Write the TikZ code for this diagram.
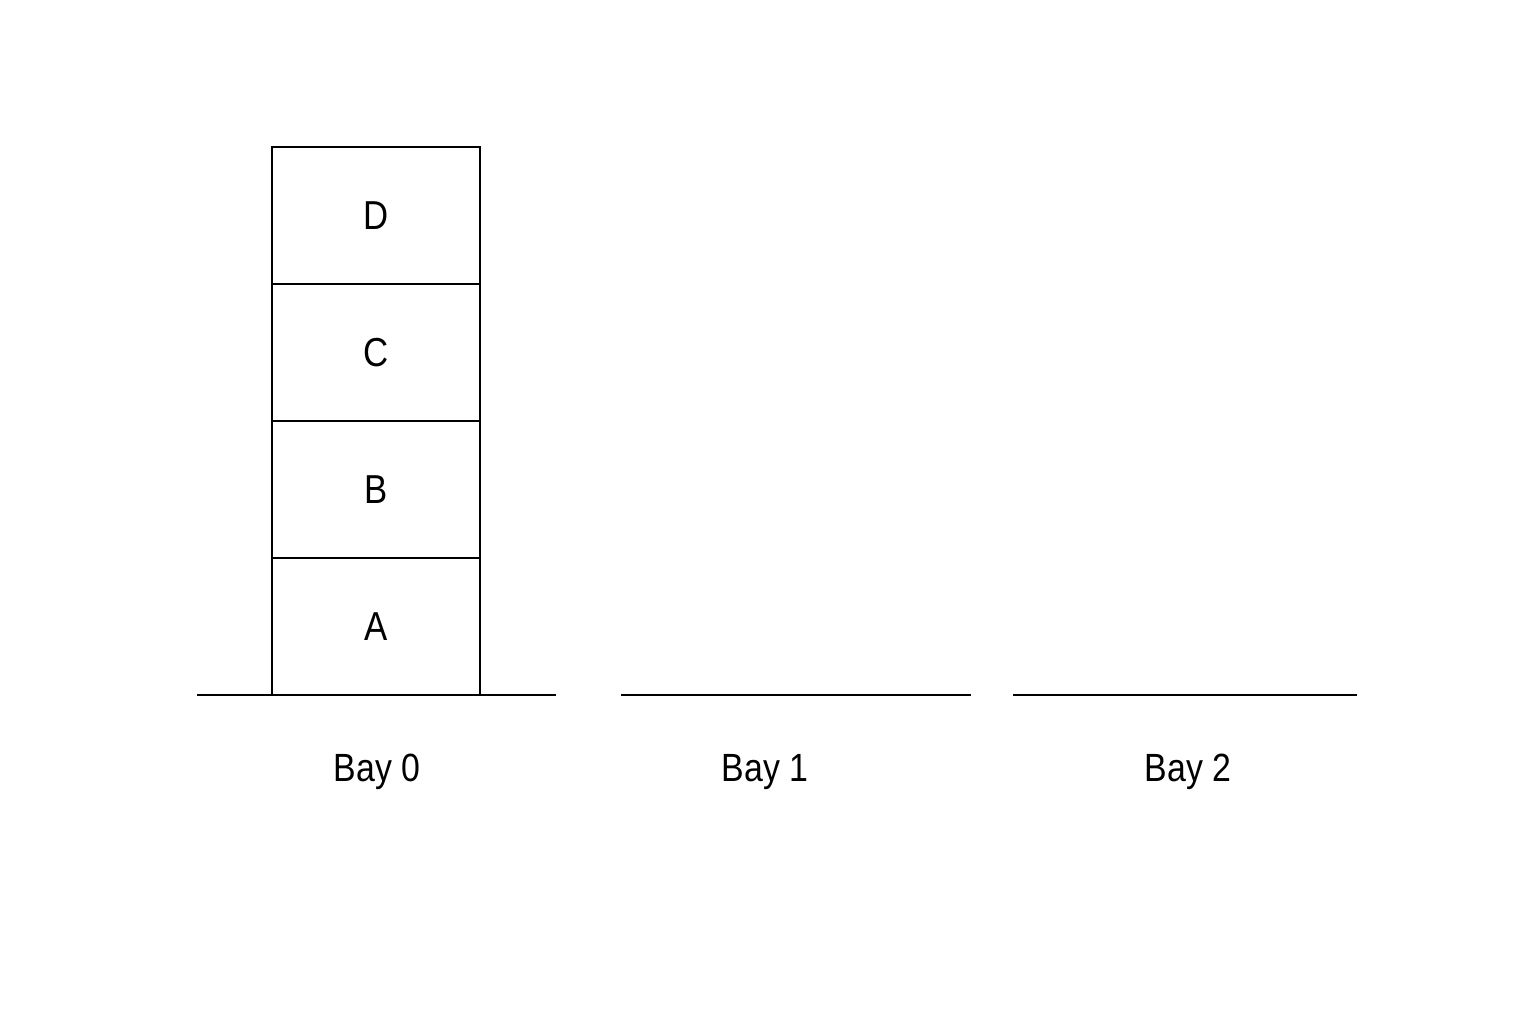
\documentclass[tikz,border=0pt]{standalone}
\usepackage{fontspec}
\setmainfont[FakeStretch=0.86]{Liberation Sans}
\usetikzlibrary{positioning}
\tikzset{block/.style={draw,line width=0.6pt,minimum width=2.08cm,minimum height=1.37cm,inner sep=0pt,outer sep=0pt,font=\fontsize{11.5}{14}\selectfont},
baylabel/.style={anchor=base,font=\fontsize{11.2}{13}\selectfont}}
\begin{document}
\begin{tikzpicture}
\useasboundingbox (0,0) rectangle (15.36,10.24);
% ground of the three bays
\draw[line width=0.6pt] (1.97,3.29)--(5.56,3.29);
\draw[line width=0.6pt] (6.21,3.29)--(9.71,3.29);
\draw[line width=0.6pt] (10.13,3.29)--(13.57,3.29);
% stack in bay 0
\node[block] (A) at (3.76,3.975) {A};
\node[block,above=0pt of A] (B) {B};
\node[block,above=0pt of B] (C) {C};
\node[block,above=0pt of C] (D) {D};
% labels
\node[baylabel] (bay0) at (3.77,2.43) {Bay 0};
\node[baylabel] (bay1) at (7.65,2.43) {Bay 1};
\node[baylabel] (bay2) at (11.88,2.43) {Bay 2};
\end{tikzpicture}
\end{document}
